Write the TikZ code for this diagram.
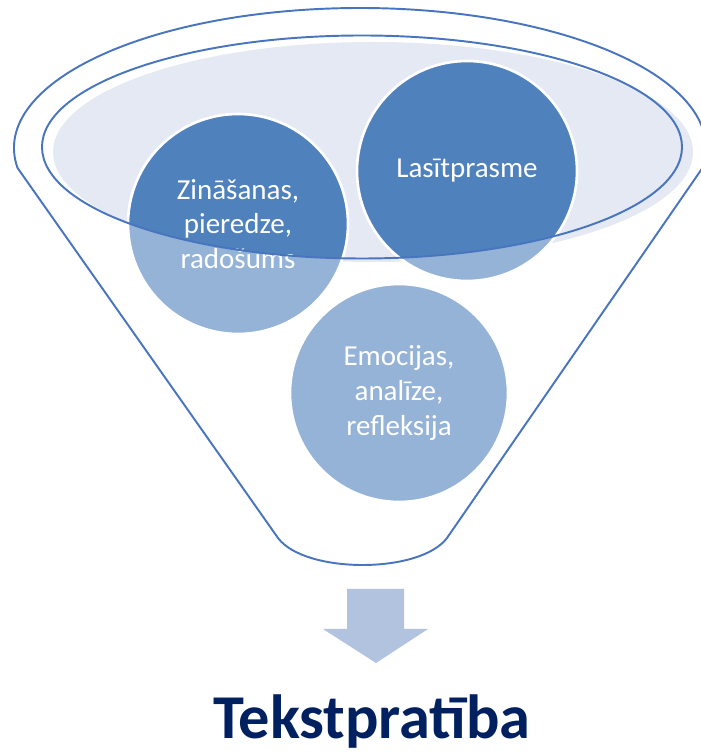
\documentclass[tikz,border=0pt]{standalone}
\usepackage{fontspec}
\setmainfont{Carlito}
\usepackage{tikz}
\usetikzlibrary{positioning}
\definecolor{funnelline}{RGB}{72,117,190}
\definecolor{bowl}{RGB}{228,233,243}
\definecolor{darkball}{RGB}{79,129,189}
\definecolor{lightball}{RGB}{149,179,215}
\definecolor{flow}{RGB}{178,195,223}
\definecolor{navy}{RGB}{0,32,96}

\begin{document}
\begin{tikzpicture}[
    funnel/.style={draw=funnelline, line width=1.1pt},
    ball/.style={circle, minimum size=4.4cm, inner sep=0pt, fill=lightball,
        draw=white, line width=1.5pt, text=white, align=center,
        font=\fontsize{16.5}{19.8}\selectfont},
    inbowl/.style={path picture={
        \clip (rim) ellipse (6.4 and 2.23);
        \fill[darkball] (path picture bounding box.south west)
            rectangle (path picture bounding box.north east);}}
]
    \useasboundingbox (0,0) rectangle (14,15.04);
    \coordinate (rim) at (7.24,12.1);

    % Bowl of the funnel
    \fill[bowl] (7.46,12.0) ellipse (6.4 and 2.2);

    % Balls
    \node[ball, inbowl] (knowledge) at (4.76,10.56) {Zināšanas,\\pieredze,\\radošums};
    \node[ball, inbowl] (literacy) at (9.34,11.62) {Lasītprasme};
    \node[ball, minimum size=4.36cm] (emotions) at (7.98,7.18) {Emocijas,\\analīze,\\refleksija};

    % Rim and body
    \draw[funnel] (rim) ellipse (6.4 and 2.23);
    \draw[funnel] (7.2,12.08) ++(188.2:6.92 and 2.8)
        arc[start angle=188.2, end angle=-8.2, x radius=6.92, y radius=2.8]
        -- (8.94,4.28) .. controls (8.4,3.56) and (6.1,3.56) .. (5.56,4.28) -- cycle;

    % Arrow
    \fill[flow] (6.94,3.26) -- (8.08,3.26) -- (8.08,2.46) -- (8.56,2.46)
        -- (7.52,1.78) -- (6.46,2.46) -- (6.94,2.46) -- cycle;

    % Result
    \node[font=\fontsize{35.5}{42}\selectfont\bfseries, text=navy, anchor=base,
        inner sep=0pt] (result) at (7.44,0.27) {Tekstpratība};
\end{tikzpicture}
\end{document}
